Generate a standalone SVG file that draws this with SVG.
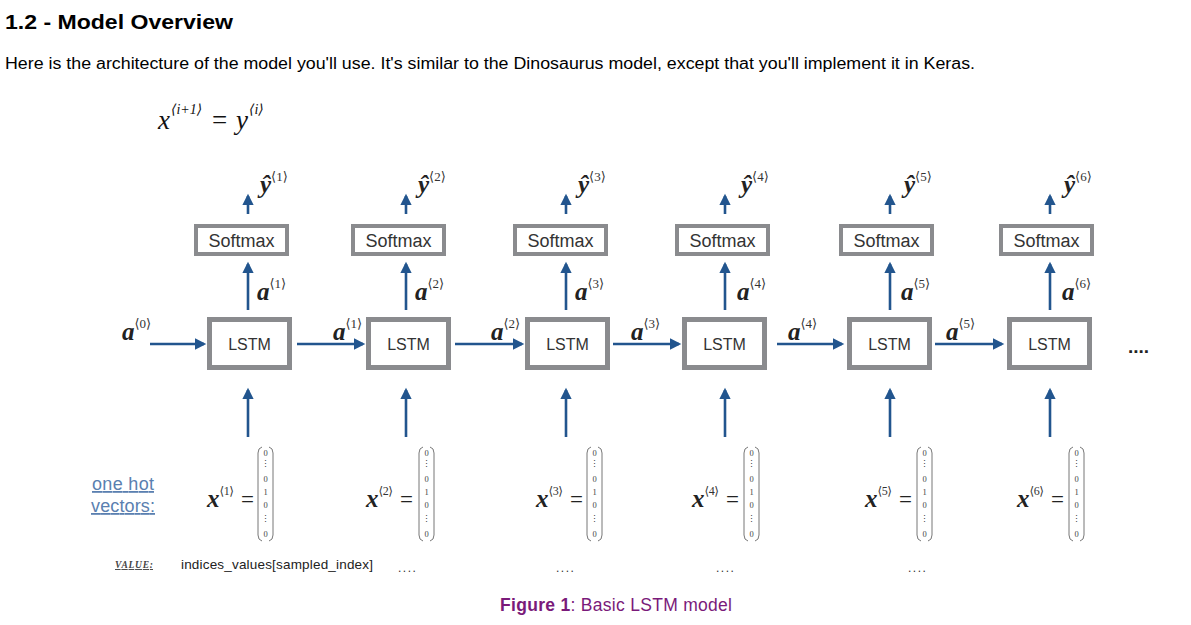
<svg xmlns="http://www.w3.org/2000/svg" width="1191" height="625" viewBox="0 0 1191 625">
<style>
.h{font-family:"Liberation Sans",Arial,sans-serif;font-weight:bold;font-size:21px;fill:#000}
.p{font-family:"Liberation Sans",Arial,sans-serif;font-size:16px;fill:#000}
.bx{fill:#fff;stroke:#8a8b8e}
.sm{stroke-width:4}
.ls{stroke-width:5}
.bt{font-family:"Liberation Sans",Arial,sans-serif;fill:#333;text-anchor:middle}
.m{font-family:"Liberation Serif","DejaVu Serif",serif;font-style:italic;font-weight:bold;font-size:25px;fill:#222}
.sup{font-family:"Liberation Serif","DejaVu Serif",serif;font-style:normal;font-weight:normal;font-size:13px;fill:#333}
.sx{font-size:12px;letter-spacing:-0.5px}
.eq{font-family:"Liberation Serif","DejaVu Serif",serif;font-size:23px;fill:#222}
.ar{stroke:#22558e;stroke-width:2.6;fill:none}
.v{font-family:"Liberation Serif","DejaVu Serif",serif;font-size:8.5px;fill:#444;text-anchor:middle}
.par{fill:none;stroke:#777;stroke-width:1}
.dots{font-family:"Liberation Sans",Arial,sans-serif;font-size:12px;fill:#333;letter-spacing:1.5px}
</style>
<defs>
<marker id="ah" viewBox="0 0 10 10" refX="8" refY="5" markerWidth="4.6" markerHeight="4.4" orient="auto" markerUnits="strokeWidth">
<path d="M0,0 L10,5 L0,10 z" fill="#22558e"/>
</marker>
<g id="vec">
<path class="par" d="M4,0 Q0,1 0,6 L0,88 Q0,93 4,94"/>
<path class="par" d="M11,0 Q15,1 15,6 L15,88 Q15,93 11,94"/>
<text class="v" x="7.5" y="9">0</text>
<text class="v" x="7.5" y="20">⋮</text>
<text class="v" x="7.5" y="35">0</text>
<text class="v" x="7.5" y="48">1</text>
<text class="v" x="7.5" y="61">0</text>
<text class="v" x="7.5" y="75">⋮</text>
<text class="v" x="7.5" y="90">0</text>
</g>
</defs>
<rect width="1191" height="625" fill="#fff"/>
<text class="h" x="5" y="29" textLength="228" lengthAdjust="spacingAndGlyphs">1.2 - Model Overview</text>
<text class="p" x="5" y="69" textLength="970" lengthAdjust="spacingAndGlyphs">Here is the architecture of the model you'll use. It's similar to the Dinosaurus model, except that you'll implement it in Keras.</text>
<g id="formula" font-family="Liberation Serif,DejaVu Serif,serif" font-style="italic" fill="#111">
<text x="158" y="129" font-size="27">x</text>
<text x="171" y="114" font-size="14">⟨i+1⟩</text>
<text x="212" y="129" font-size="27" font-style="normal">=</text>
<text x="236" y="129" font-size="27">y</text>
<text x="249" y="114" font-size="14">⟨i⟩</text>
</g>

<g id="connectors">
<line class="ar" x1="248" y1="214" x2="248" y2="196" marker-end="url(#ah)"/>
<line class="ar" x1="406" y1="214" x2="406" y2="196" marker-end="url(#ah)"/>
<line class="ar" x1="566" y1="214" x2="566" y2="196" marker-end="url(#ah)"/>
<line class="ar" x1="725" y1="214" x2="725" y2="196" marker-end="url(#ah)"/>
<line class="ar" x1="890" y1="214" x2="890" y2="196" marker-end="url(#ah)"/>
<line class="ar" x1="1050" y1="214" x2="1050" y2="196" marker-end="url(#ah)"/>
<line class="ar" x1="248" y1="310" x2="248" y2="264" marker-end="url(#ah)"/>
<line class="ar" x1="406" y1="310" x2="406" y2="264" marker-end="url(#ah)"/>
<line class="ar" x1="566" y1="310" x2="566" y2="264" marker-end="url(#ah)"/>
<line class="ar" x1="725" y1="310" x2="725" y2="264" marker-end="url(#ah)"/>
<line class="ar" x1="890" y1="310" x2="890" y2="264" marker-end="url(#ah)"/>
<line class="ar" x1="1050" y1="310" x2="1050" y2="264" marker-end="url(#ah)"/>
<line class="ar" x1="248" y1="437" x2="248" y2="390" marker-end="url(#ah)"/>
<line class="ar" x1="406" y1="437" x2="406" y2="390" marker-end="url(#ah)"/>
<line class="ar" x1="566" y1="437" x2="566" y2="390" marker-end="url(#ah)"/>
<line class="ar" x1="725" y1="437" x2="725" y2="390" marker-end="url(#ah)"/>
<line class="ar" x1="890" y1="437" x2="890" y2="390" marker-end="url(#ah)"/>
<line class="ar" x1="1050" y1="437" x2="1050" y2="390" marker-end="url(#ah)"/>
<line class="ar" x1="150" y1="344" x2="204" y2="344" marker-end="url(#ah)"/>
<line class="ar" x1="297" y1="344" x2="363" y2="344" marker-end="url(#ah)"/>
<line class="ar" x1="455" y1="344" x2="522" y2="344" marker-end="url(#ah)"/>
<line class="ar" x1="613" y1="344" x2="679" y2="344" marker-end="url(#ah)"/>
<line class="ar" x1="777" y1="344" x2="842" y2="344" marker-end="url(#ah)"/>
<line class="ar" x1="935" y1="344" x2="1002" y2="344" marker-end="url(#ah)"/>
</g>

<g id="softmax1"><rect class="bx sm" x="196" y="226" width="91" height="28"/><text class="bt" x="241.5" y="247" font-size="18">Softmax</text></g>
<g id="softmax2"><rect class="bx sm" x="353" y="226" width="91" height="28"/><text class="bt" x="398.5" y="247" font-size="18">Softmax</text></g>
<g id="softmax3"><rect class="bx sm" x="515" y="226" width="91" height="28"/><text class="bt" x="560.5" y="247" font-size="18">Softmax</text></g>
<g id="softmax4"><rect class="bx sm" x="677" y="226" width="91" height="28"/><text class="bt" x="722.5" y="247" font-size="18">Softmax</text></g>
<g id="softmax5"><rect class="bx sm" x="841" y="226" width="91" height="28"/><text class="bt" x="886.5" y="247" font-size="18">Softmax</text></g>
<g id="softmax6"><rect class="bx sm" x="1001" y="226" width="91" height="28"/><text class="bt" x="1046.5" y="247" font-size="18">Softmax</text></g>

<g id="lstm1"><rect class="bx ls" x="209.5" y="319.5" width="80" height="48"/><text class="bt" x="249.5" y="350" font-size="16">LSTM</text></g>
<g id="lstm2"><rect class="bx ls" x="368.5" y="319.5" width="80" height="48"/><text class="bt" x="408.5" y="350" font-size="16">LSTM</text></g>
<g id="lstm3"><rect class="bx ls" x="527.5" y="319.5" width="80" height="48"/><text class="bt" x="567.5" y="350" font-size="16">LSTM</text></g>
<g id="lstm4"><rect class="bx ls" x="684.5" y="319.5" width="80" height="48"/><text class="bt" x="724.5" y="350" font-size="16">LSTM</text></g>
<g id="lstm5"><rect class="bx ls" x="849.5" y="319.5" width="80" height="48"/><text class="bt" x="889.5" y="350" font-size="16">LSTM</text></g>
<g id="lstm6"><rect class="bx ls" x="1009.5" y="319.5" width="80" height="48"/><text class="bt" x="1049.5" y="350" font-size="16">LSTM</text></g>

<g id="labels">
<text class="m" x="260" y="193">ŷ<tspan class="sup" dy="-12">⟨1⟩</tspan></text>
<text class="m" x="418" y="193">ŷ<tspan class="sup" dy="-12">⟨2⟩</tspan></text>
<text class="m" x="578" y="193">ŷ<tspan class="sup" dy="-12">⟨3⟩</tspan></text>
<text class="m" x="741" y="193">ŷ<tspan class="sup" dy="-12">⟨4⟩</tspan></text>
<text class="m" x="904" y="193">ŷ<tspan class="sup" dy="-12">⟨5⟩</tspan></text>
<text class="m" x="1064" y="193">ŷ<tspan class="sup" dy="-12">⟨6⟩</tspan></text>
<text class="m" x="257" y="300">a<tspan class="sup" dy="-12">⟨1⟩</tspan></text>
<text class="m" x="415" y="300">a<tspan class="sup" dy="-12">⟨2⟩</tspan></text>
<text class="m" x="575" y="300">a<tspan class="sup" dy="-12">⟨3⟩</tspan></text>
<text class="m" x="737" y="300">a<tspan class="sup" dy="-12">⟨4⟩</tspan></text>
<text class="m" x="901" y="300">a<tspan class="sup" dy="-12">⟨5⟩</tspan></text>
<text class="m" x="1062" y="300">a<tspan class="sup" dy="-12">⟨6⟩</tspan></text>
<text class="m" x="122" y="340">a<tspan class="sup" dy="-12">⟨0⟩</tspan></text>
<text class="m" x="333" y="340">a<tspan class="sup" dy="-12">⟨1⟩</tspan></text>
<text class="m" x="491" y="340">a<tspan class="sup" dy="-12">⟨2⟩</tspan></text>
<text class="m" x="631" y="340">a<tspan class="sup" dy="-12">⟨3⟩</tspan></text>
<text class="m" x="788" y="340">a<tspan class="sup" dy="-12">⟨4⟩</tspan></text>
<text class="m" x="946" y="340">a<tspan class="sup" dy="-12">⟨5⟩</tspan></text>
<text x="1128" y="353" font-family="Liberation Sans,Arial,sans-serif" font-weight="bold" font-size="19" fill="#222">....</text>
</g>

<g id="onehot">
<text x="92" y="490" font-family="Liberation Sans,Arial,sans-serif" font-size="18" fill="#5a7fb0" text-decoration="underline" textLength="62">one hot</text>
<text x="91" y="512" font-family="Liberation Sans,Arial,sans-serif" font-size="18" fill="#5a7fb0" text-decoration="underline" textLength="64">vectors:</text>
</g>

<g id="inputs">
<text class="m" x="207" y="507">x<tspan class="sup sx" dy="-12">⟨1⟩</tspan></text><text class="eq" x="241" y="507">=</text>
<use href="#vec" x="258" y="447"/>
<text class="m" x="366" y="507">x<tspan class="sup sx" dy="-12">⟨2⟩</tspan></text><text class="eq" x="400" y="507">=</text>
<use href="#vec" x="419" y="447"/>
<text class="m" x="536" y="507">x<tspan class="sup sx" dy="-12">⟨3⟩</tspan></text><text class="eq" x="570" y="507">=</text>
<use href="#vec" x="587" y="447"/>
<text class="m" x="692" y="507">x<tspan class="sup sx" dy="-12">⟨4⟩</tspan></text><text class="eq" x="726" y="507">=</text>
<use href="#vec" x="744" y="447"/>
<text class="m" x="865" y="507">x<tspan class="sup sx" dy="-12">⟨5⟩</tspan></text><text class="eq" x="899" y="507">=</text>
<use href="#vec" x="917" y="447"/>
<text class="m" x="1017" y="507">x<tspan class="sup sx" dy="-12">⟨6⟩</tspan></text><text class="eq" x="1051" y="507">=</text>
<use href="#vec" x="1069" y="447"/>
</g>

<g id="values">
<text x="115" y="568" font-family="Liberation Serif,serif" font-style="italic" font-weight="bold" font-size="9.5" fill="#444" text-decoration="underline" textLength="38">VALUE:</text>
<text x="181" y="569" font-family="Liberation Sans,Arial,sans-serif" font-size="13.5" fill="#222" textLength="192">indices_values[sampled_index]</text>
<text class="dots" x="398" y="572">....</text>
<text class="dots" x="556" y="572">....</text>
<text class="dots" x="716" y="572">....</text>
<text class="dots" x="908" y="572">....</text>
</g>

<text x="500" y="611" font-family="Liberation Sans,Arial,sans-serif" font-size="17.5" fill="#7a1a7a" textLength="232"><tspan font-weight="bold">Figure 1</tspan>: Basic LSTM model</text>
</svg>
